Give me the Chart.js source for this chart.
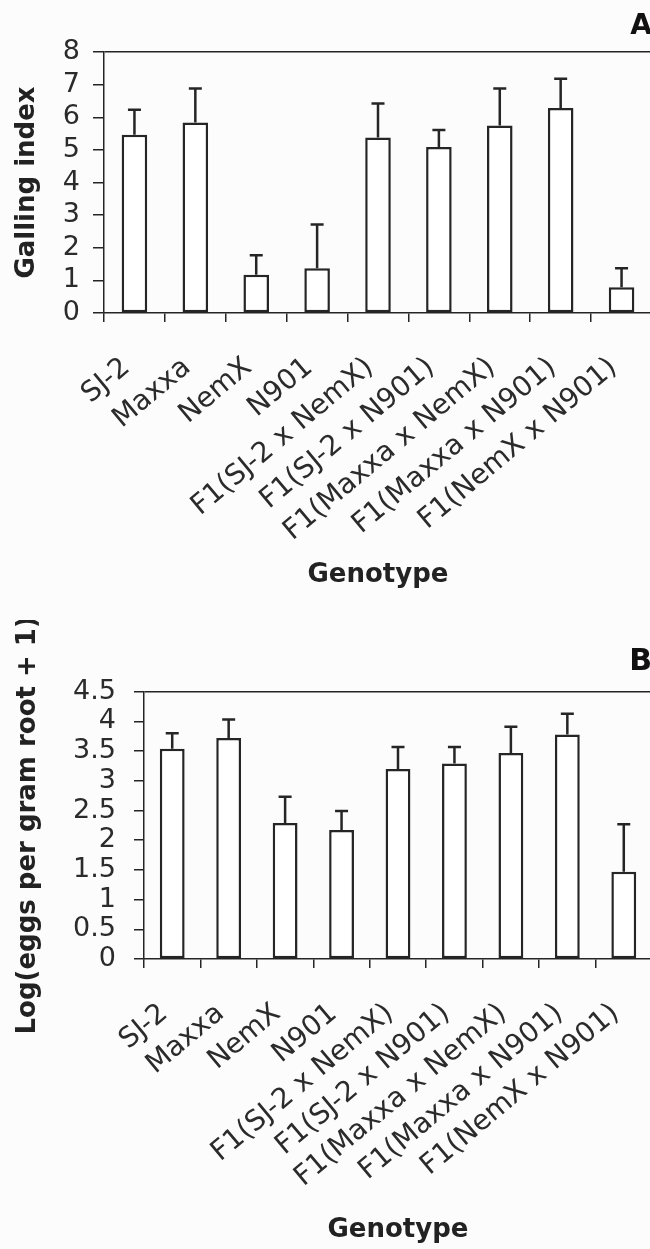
<!DOCTYPE html>
<html>
<head>
<meta charset="utf-8">
<title>Galling index and egg counts by genotype</title>
<script src="https://cdn.jsdelivr.net/npm/chart.js@4.4.0/dist/chart.umd.min.js"></script>
<style>
    html, body {
        margin: 0;
        padding: 0;
        width: 650px;
        height: 1249px;
        overflow: hidden;
        background: #fcfcfc;
    }
    canvas {
        position: absolute;
        left: 0;
    }
    #chart-a { top: 0; }
    #chart-b { top: 620px; }
</style>
</head>
<body>
<canvas id="chart-a" width="652" height="620"></canvas>
<canvas id="chart-b" width="652" height="629"></canvas>
<script>
// =====================
// DATA
// =====================

const genotypes = [
    'SJ-2', 'Maxxa', 'NemX', 'N901',
    'F1(SJ-2 x NemX)', 'F1(SJ-2 x N901)',
    'F1(Maxxa x NemX)', 'F1(Maxxa x N901)', 'F1(NemX x N901)'
];

// Panel A
const gallingIndex = [5.46, 5.84, 1.17, 1.37, 5.38, 5.09, 5.75, 6.28, 0.79];
const gallingError = [0.77, 1.04, 0.60, 1.34, 1.04, 0.52, 1.13, 0.90, 0.58];

// Panel B
const logEggs = [3.54, 3.72, 2.29, 2.17, 3.20, 3.29, 3.47, 3.78, 1.47];
const logEggsError = [0.26, 0.31, 0.44, 0.32, 0.37, 0.28, 0.44, 0.35, 0.80];

const INK = '#252525';
const FONT = "'DejaVu Sans', 'Liberation Sans', Arial, sans-serif";

// =====================
// PLUGINS
// =====================

// upper error bar with a cap, drawn from the bar top
function errorBarPlugin(errors) {
    return {
        id: 'errorBars',
        afterDatasetsDraw(chart) {
            const ctx = chart.ctx;
            const meta = chart.getDatasetMeta(0);
            const yScale = chart.scales.y;
            const values = chart.data.datasets[0].data;
            ctx.save();
            ctx.strokeStyle = INK;
            ctx.lineWidth = 2.5;
            meta.data.forEach((bar, i) => {
                const top = yScale.getPixelForValue(values[i] + errors[i]);
                ctx.beginPath();
                ctx.moveTo(bar.x, bar.y);
                ctx.lineTo(bar.x, top);
                ctx.moveTo(bar.x - 6.5, top);
                ctx.lineTo(bar.x + 6.5, top);
                ctx.stroke();
            });
            ctx.restore();
        }
    };
}

// =====================
// CHARTS
// =====================

function makeChart(id, cfg) {
    return new Chart(document.getElementById(id), {
        type: 'bar',
        data: {
            labels: genotypes,
            datasets: [{
                data: cfg.values,
                backgroundColor: '#ffffff',
                borderColor: INK,
                borderWidth: 2.5,
                borderSkipped: false,
                categoryPercentage: 1,
                barPercentage: cfg.barPct,
            }],
        },
        plugins: [errorBarPlugin(cfg.errors)],
        options: {
            responsive: false,
            animation: false,
            layout: { padding: 0 },
            plugins: {
                legend: { display: false },
                tooltip: { enabled: false },
                title: {
                    display: true,
                    text: cfg.panel,
                    align: 'end',
                    color: '#111',
                    font: { family: FONT, size: cfg.panelSize, weight: 'bold' },
                    padding: { top: cfg.panelTop, bottom: cfg.panelBottom },
                },
            },
            scales: {
                x: {
                    afterFit(scale) {
                        scale.height = cfg.xHeight;
                        scale.paddingLeft = 0;
                        scale.paddingRight = 0;
                    },
                    grid: {
                        offset: true,
                        drawOnChartArea: false,
                        tickLength: 9,
                        color: INK,
                        lineWidth: 1.5,
                    },
                    border: { display: true, color: INK, width: 1.5 },
                    ticks: {
                        autoSkip: false,
                        minRotation: 40,
                        maxRotation: 40,
                        padding: cfg.xPad,
                        labelOffset: -8,
                        color: '#2b2b2b',
                        font: { family: FONT, size: 28 },
                    },
                    title: {
                        display: true,
                        text: 'Genotype',
                        color: '#222',
                        font: { family: FONT, size: 26, weight: 'bold' },
                        padding: { top: 0, bottom: cfg.xTitleBottom },
                    },
                },
                y: {
                    min: 0,
                    max: cfg.max,
                    afterFit(scale) {
                        scale.width = cfg.yWidth;
                        scale.paddingTop = 0;
                        scale.paddingBottom = 0;
                    },
                    grid: {
                        drawOnChartArea: true,
                        tickLength: cfg.yTick,
                        tickColor: INK,
                        lineWidth: 1.5,
                        color: c => (c.tick && c.tick.value === cfg.max ? INK : 'rgba(0,0,0,0)'),
                    },
                    border: { display: true, color: INK, width: 1.5 },
                    ticks: {
                        stepSize: cfg.step,
                        autoSkip: false,
                        padding: cfg.yPad,
                        color: '#2b2b2b',
                        font: { family: FONT, size: 27 },
                        callback: v => String(v),
                    },
                    title: {
                        display: true,
                        text: cfg.yTitle,
                        color: '#222',
                        font: { family: FONT, size: 26, weight: 'bold' },
                        padding: { top: cfg.yTitleTop, bottom: 0 },
                    },
                },
            },
        },
    });
}

makeChart('chart-a', {
    values: gallingIndex,
    errors: gallingError,
    panel: 'A',
    panelSize: 28,
    panelTop: 10,
    panelBottom: 8.4,
    barPct: 0.42,
    max: 8,
    step: 1,
    yTitle: 'Galling index',
    yWidth: 104,
    yTick: 11,
    yPad: 13,
    yTitleTop: 12,
    xHeight: 307,
    xPad: 29,
    xTitleBottom: 29,
});

makeChart('chart-b', {
    values: logEggs,
    errors: logEggsError,
    panel: 'B',
    panelSize: 30,
    panelTop: 24.5,
    panelBottom: 11.2,
    barPct: 0.44,
    max: 4.5,
    step: 0.5,
    yTitle: 'Log(eggs per gram root + 1)',
    yWidth: 144,
    yTick: 10,
    yPad: 18,
    yTitleTop: 13,
    xHeight: 290,
    xPad: 29,
    xTitleBottom: 3,
});
</script>
</body>
</html>
